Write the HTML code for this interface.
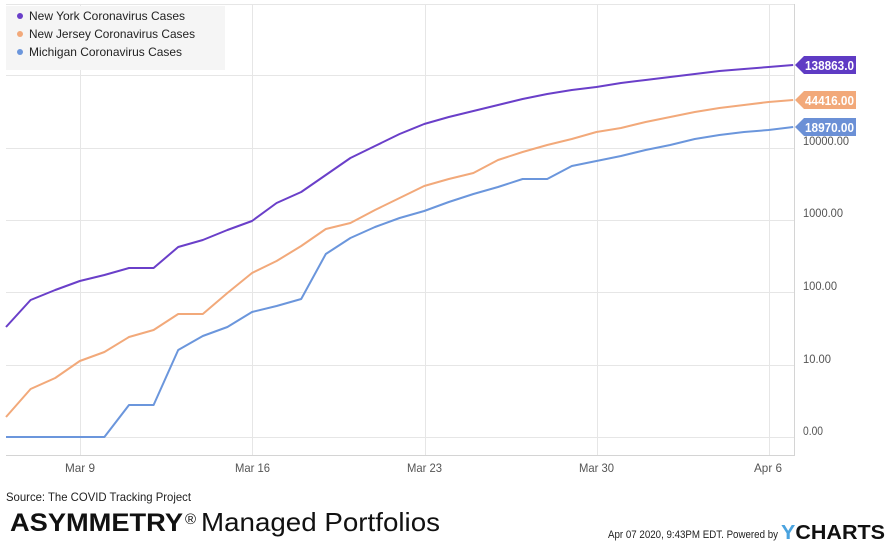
<!DOCTYPE html>
<html><head><style>
body{margin:0;background:#fff;width:888px;height:545px;overflow:hidden;font-family:"Liberation Sans",sans-serif}
</style></head><body>
<svg width="888" height="545" xmlns="http://www.w3.org/2000/svg" style="position:absolute;left:0;top:0">
<g stroke="#e6e6e6" stroke-width="1">
<line x1="6" y1="4.5" x2="794" y2="4.5"/>
<line x1="6" y1="75.5" x2="794" y2="75.5"/>
<line x1="6" y1="148.5" x2="794" y2="148.5"/>
<line x1="6" y1="220.5" x2="794" y2="220.5"/>
<line x1="6" y1="292.5" x2="794" y2="292.5"/>
<line x1="6" y1="365.5" x2="794" y2="365.5"/>
<line x1="6" y1="437.5" x2="794" y2="437.5"/>
<line x1="80.5" y1="4" x2="80.5" y2="455"/>
<line x1="252.5" y1="4" x2="252.5" y2="455"/>
<line x1="425.5" y1="4" x2="425.5" y2="455"/>
<line x1="597.5" y1="4" x2="597.5" y2="455"/>
<line x1="769.5" y1="4" x2="769.5" y2="455"/>
</g>
<line x1="794.5" y1="4" x2="794.5" y2="456" stroke="#d4d4d4"/>
<line x1="6" y1="455.5" x2="795" y2="455.5" stroke="#d4d4d4"/>
<rect x="6" y="6" width="219" height="64" fill="#f5f5f5"/>
<g font-size="12" fill="#222">
<circle cx="20" cy="16" r="3" fill="#6a3fc9"/><text x="29" y="20" textLength="156" lengthAdjust="spacingAndGlyphs">New York Coronavirus Cases</text>
<circle cx="20" cy="34" r="3" fill="#f2a97a"/><text x="29" y="38" textLength="166" lengthAdjust="spacingAndGlyphs">New Jersey Coronavirus Cases</text>
<circle cx="20" cy="52" r="3" fill="#6b96dc"/><text x="29" y="56" textLength="153" lengthAdjust="spacingAndGlyphs">Michigan Coronavirus Cases</text>
</g>
<g fill="none" stroke-width="2" stroke-linejoin="round">
<polyline stroke="#6a3fc9" points="6,327 30.6,300 55.2,290 79.8,281 104.4,275 129,268 153.6,268 178.2,247 202.8,240 227.4,230 252,221 276.6,203 301.2,192 325.8,175 350.4,158 375,146 399.6,134 424.2,124 448.8,117 473.4,111 498,105 522.6,99 547.2,94 571.8,90 596.4,87 621,83 645.6,80 670.2,77 694.8,74 719.4,71 744,69 768.6,67 793.2,65"/>
<polyline stroke="#f2a97a" points="6,417 30.6,389 55.2,378 79.8,361 104.4,352 129,337 153.6,330 178.2,314 202.8,314 227.4,293 252,273 276.6,261 301.2,246 325.8,229 350.4,223 375,210 399.6,198 424.2,186 448.8,179 473.4,173 498,160 522.6,152 547.2,145 571.8,139 596.4,132 621,128 645.6,122 670.2,117 694.8,112 719.4,108 744,105 768.6,102 793.2,100"/>
<polyline stroke="#6b96dc" points="6,437 30.6,437 55.2,437 79.8,437 104.4,437 129,405 153.6,405 178.2,350 202.8,336 227.4,327 252,312 276.6,306 301.2,299 325.8,254 350.4,238 375,227 399.6,218 424.2,211 448.8,202 473.4,194 498,187 522.6,179 547.2,179 571.8,166 596.4,161 621,156 645.6,150 670.2,145 694.8,139 719.4,135 744,132 768.6,130 793.2,127"/>
</g>
<g font-size="12" fill="#555" lengthAdjust="spacingAndGlyphs">
<text x="803" y="145" textLength="46" lengthAdjust="spacingAndGlyphs">10000.00</text>
<text x="803" y="217" textLength="40" lengthAdjust="spacingAndGlyphs">1000.00</text>
<text x="803" y="290" textLength="34" lengthAdjust="spacingAndGlyphs">100.00</text>
<text x="803" y="363" textLength="28" lengthAdjust="spacingAndGlyphs">10.00</text>
<text x="803" y="435" textLength="20" lengthAdjust="spacingAndGlyphs">0.00</text>
<text x="65" y="472" textLength="30" lengthAdjust="spacingAndGlyphs">Mar 9</text>
<text x="235" y="472" textLength="35" lengthAdjust="spacingAndGlyphs">Mar 16</text>
<text x="407" y="472" textLength="35" lengthAdjust="spacingAndGlyphs">Mar 23</text>
<text x="579" y="472" textLength="35" lengthAdjust="spacingAndGlyphs">Mar 30</text>
<text x="754" y="472" textLength="28" lengthAdjust="spacingAndGlyphs">Apr 6</text>
</g>
<g font-size="13" font-weight="bold" fill="#fff">
<polygon points="795,65 804,56 856,56 856,74 804,74" fill="#5f3bc4"/><text x="805" y="70" textLength="49" lengthAdjust="spacingAndGlyphs">138863.0</text>
<polygon points="795,100 804,91 856,91 856,109 804,109" fill="#f2a97a"/><text x="805" y="105" textLength="49" lengthAdjust="spacingAndGlyphs">44416.00</text>
<polygon points="795,127 804,118 856,118 856,136 804,136" fill="#6b90d6"/><text x="805" y="132" textLength="49" lengthAdjust="spacingAndGlyphs">18970.00</text>
</g>
<text x="6" y="501" font-size="12" fill="#222" textLength="185" lengthAdjust="spacingAndGlyphs">Source: The COVID Tracking Project</text>
<text x="10" y="531" font-size="25" font-weight="bold" fill="#111" textLength="173" lengthAdjust="spacingAndGlyphs">ASYMMETRY</text>
<text x="185" y="524" font-size="15" fill="#111">®</text>
<text x="201" y="531" font-size="26" fill="#111" textLength="239" lengthAdjust="spacingAndGlyphs">Managed Portfolios</text>
<text x="608" y="538" font-size="11" fill="#222" textLength="170" lengthAdjust="spacingAndGlyphs">Apr 07 2020, 9:43PM EDT.  Powered by</text>
<text x="781" y="539" font-size="20" font-weight="bold" fill="#111" textLength="104" lengthAdjust="spacingAndGlyphs"><tspan fill="#4aa3df">Y</tspan>CHARTS</text>
</svg>
</body></html>
